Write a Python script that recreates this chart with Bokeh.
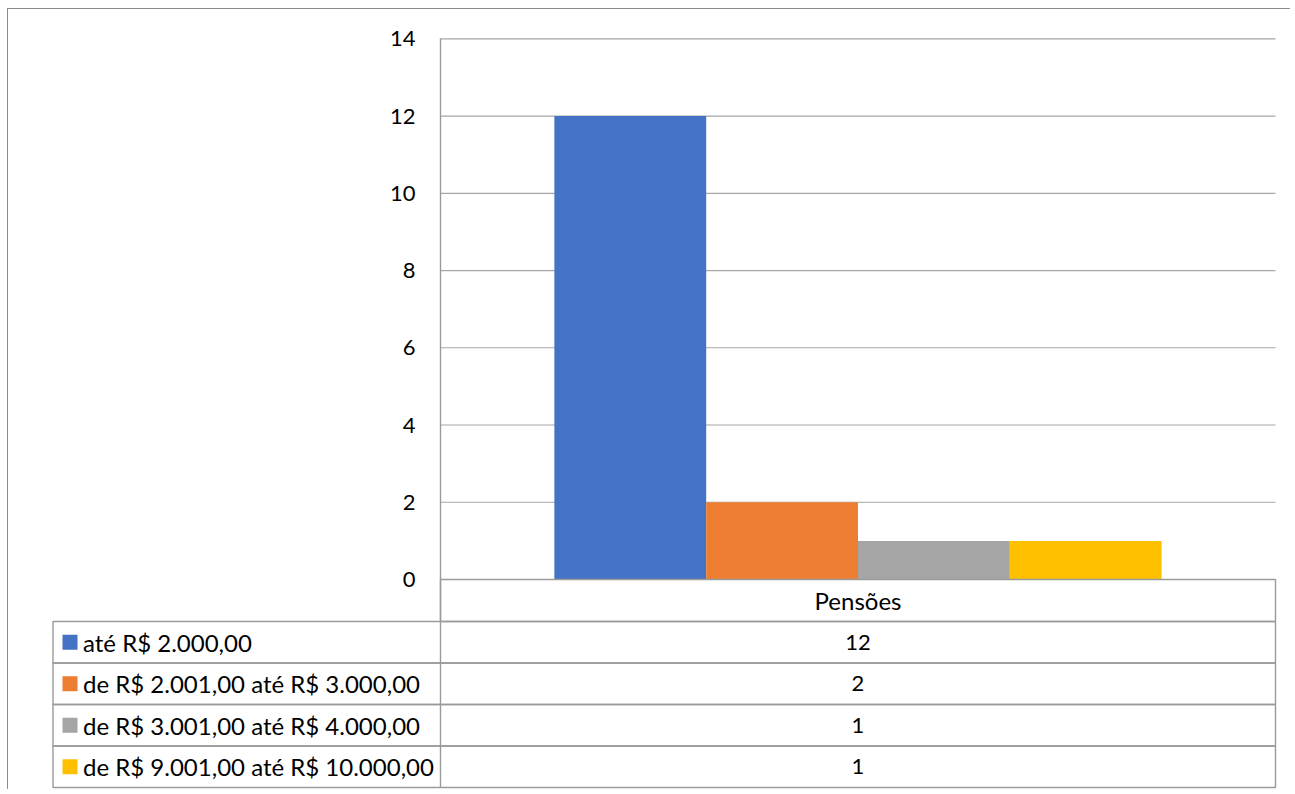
from bokeh.plotting import figure
from bokeh.layouts import column
from bokeh.models import Range1d, FixedTicker, LinearAxis
from bokeh.core.properties import value
from bokeh.embed import file_html
from bokeh.resources import INLINE

# ---- data ----
group = "Pensões"
categories = ["até R$ 2.000,00", "de R$ 2.001,00 até R$ 3.000,00",
              "de R$ 3.001,00 até R$ 4.000,00", "de R$ 9.001,00 até R$ 10.000,00"]
values = [12, 2, 1, 1]
colors = ["#4472C4", "#ED7D31", "#A5A5A5", "#FFC000"]
y_ticks = [0, 2, 4, 6, 8, 10, 12, 14]

FONT = "Lato"
GRID = "#a6a6a6"
BORDER = "#9a9a9a"
NUM_SIZE = "22px"
TXT_SIZE = "24px"

# ---- layout in page pixels ----
OX, OY = 8, 9                 # inner origin (outer border drawn at 7 / 8)
PAGE_R = 1290
PL, PR = 440, 1275            # plot area left / right
Y14, Y0 = 38.3, 579           # pixel rows of top tick and zero
HB = 621                      # bottom of table header row
TL, TB = 52.5, 787            # table left / bottom
ROW_H = (TB - HB) / len(categories)
FRL, FRR, FRT, FRB = 50, 1277, 12, 789   # frame edges

ppu = (Y0 - Y14) / y_ticks[-1]
def to_x(px):
    return (px - PL) / (PR - PL)
def to_y(py):
    return (Y0 - py) / ppu

W = PAGE_R - OX
H = FRB - OY
p = figure(width=W, height=H, output_backend="svg", toolbar_location=None,
           x_range=Range1d(to_x(FRL), to_x(FRR)), y_range=Range1d(to_y(FRB), to_y(FRT)),
           x_axis_location=None, y_axis_location=None,
           min_border_left=FRL - OX, min_border_right=PAGE_R - FRR,
           min_border_top=FRT - OY, min_border_bottom=0)
p.outline_line_color = None
p.background_fill_color = "white"
p.border_fill_color = "white"
for g in p.grid:
    g.visible = False

# gridlines (only over the plot area)
p.segment(x0=0, x1=1, y0=y_ticks, y1=y_ticks, line_color=GRID, line_width=1.2)

# bars
bw = 1.0 / (len(values) + 1.5)
centers = [0.5 + (i - (len(values) - 1) / 2) * bw for i in range(len(values))]
p.vbar(x=centers, top=values, width=bw, bottom=0, fill_color=colors, line_color=None)

# value axis, placed at the left edge of the plot area
yaxis = LinearAxis(fixed_location=0, ticker=FixedTicker(ticks=y_ticks),
                   bounds=(to_y(TB), y_ticks[-1]))
yaxis.axis_line_color = BORDER
yaxis.axis_line_width = 1.4
yaxis.major_tick_line_color = None
yaxis.minor_tick_line_color = None
yaxis.major_tick_out = 0
yaxis.major_tick_in = 0
yaxis.major_label_standoff = 25
yaxis.major_label_text_font = FONT
yaxis.major_label_text_font_size = NUM_SIZE
yaxis.major_label_text_color = "#000000"
p.add_layout(yaxis, "left")

# ---- data table ----
p.quad(left=0, right=1, top=0, bottom=to_y(HB), fill_alpha=0, line_color=BORDER,
       line_width=1.4)
p.text(x=[0.5], y=[to_y((Y0 + HB) / 2)], text=[group], text_align="center",
       text_baseline="middle", text_font=value(FONT), text_font_size=value(TXT_SIZE),
       text_color="#000000")

tops = [to_y(HB + i * ROW_H) for i in range(len(categories))]
bots = [to_y(HB + (i + 1) * ROW_H) for i in range(len(categories))]
mids = [to_y(HB + (i + 0.5) * ROW_H) for i in range(len(categories))]
p.quad(left=to_x(TL), right=1, top=tops, bottom=bots, fill_alpha=0,
       line_color=BORDER, line_width=1.4)
p.rect(x=to_x(69.5), y=mids, width=15, height=15, width_units="screen",
       height_units="screen", fill_color=colors, line_color=None)
p.text(x=to_x(82.5), y=mids, text=categories, text_align="left", text_baseline="middle",
       text_font=value(FONT), text_font_size=value(TXT_SIZE), text_color="#000000")
p.text(x=0.5, y=mids, text=[str(v) for v in values], text_align="center",
       text_baseline="middle", text_font=value(FONT), text_font_size=value(NUM_SIZE),
       text_color="#000000")

layout = column(p, spacing=0, margin=(OY - 1, 0, 0, OX - 1),
                styles={"border-top": "1px solid #8c8c8c", "border-left": "1px solid #8c8c8c"})

open("out.html", "w").write(file_html(layout, INLINE))
